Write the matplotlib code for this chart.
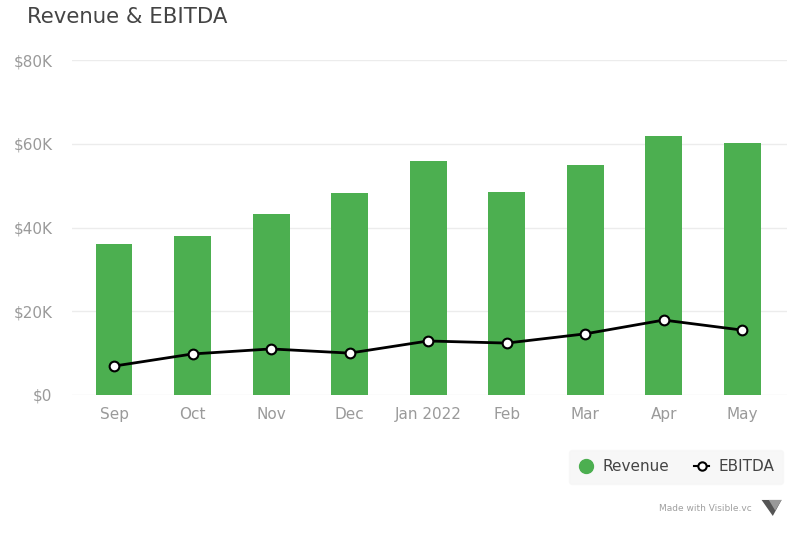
import matplotlib
matplotlib.use("Agg")
import matplotlib.pyplot as plt
from matplotlib.patches import Polygon
from matplotlib.lines import Line2D

months = ["Sep", "Oct", "Nov", "Dec", "Jan 2022", "Feb", "Mar", "Apr", "May"]
revenue = [36.0, 38.0, 43.2, 48.2, 55.9, 48.5, 54.9, 61.9, 60.2]  # $K
ebitda = [6.9, 9.8, 11.0, 10.0, 12.9, 12.4, 14.6, 17.9, 15.5]  # $K
y_ticks = [0, 20, 40, 60, 80]
y_tick_labels = ["$0", "$20K", "$40K", "$60K", "$80K"]

green = "#4caf50"
gray_text = "#9a9a9a"

fig = plt.figure(figsize=(8, 5.33), dpi=100)
ax = fig.add_axes([0.09, 0.259, 0.894, 0.628])

x = list(range(len(months)))
ax.bar(x, revenue, width=0.47, color=green, zorder=2)
ax.plot(x, ebitda, color="black", linewidth=2, marker="o", markersize=7,
        markerfacecolor="white", markeredgecolor="black", markeredgewidth=1.5, zorder=3)

ax.set_xlim(-0.535, 8.573)
ax.set_ylim(0, 80)
ax.set_yticks(y_ticks)
ax.set_yticklabels(y_tick_labels)
ax.set_xticks(x)
ax.set_xticklabels(months)
ax.tick_params(axis="both", length=0, colors=gray_text, labelsize=11)
ax.tick_params(axis="x", pad=9)
ax.tick_params(axis="y", pad=14)
ax.grid(axis="y", color="#ececec", linewidth=1, zorder=0)
for s in ax.spines.values():
    s.set_visible(False)

fig.text(0.034, 0.968, "Revenue & EBITDA", fontsize=15.3, color="#444444", va="center", ha="left")

handles = [
    Line2D([], [], linestyle="none", marker="o", markersize=10, color=green),
    Line2D([], [], color="black", linewidth=1.5, marker="o", markersize=6,
           markerfacecolor="white", markeredgecolor="black", markeredgewidth=1.5),
]
leg = fig.legend(handles, ["Revenue", "EBITDA"], loc="center right",
                 bbox_to_anchor=(0.985, 0.124), ncol=2, frameon=True, fontsize=11,
                 handlelength=1.0, handletextpad=0.6, columnspacing=1.6,
                 borderpad=0.6, borderaxespad=0.3)
leg.get_frame().set_facecolor("#f6f6f6")
leg.get_frame().set_edgecolor("#f6f6f6")
for t in leg.get_texts():
    t.set_color("#444444")

fig.text(0.94, 0.046, "Made with Visible.vc", fontsize=6.5, color="#a0a0a0", ha="right", va="center")
fig.patches.append(Polygon([[0.952, 0.062], [0.977, 0.062], [0.966, 0.032]],
                           closed=True, transform=fig.transFigure, facecolor="#555555",
                           edgecolor="none"))
fig.patches.append(Polygon([[0.961, 0.062], [0.977, 0.062], [0.969, 0.042]],
                           closed=True, transform=fig.transFigure, facecolor="#999999",
                           edgecolor="none"))

fig.savefig("out.png", dpi=100)
